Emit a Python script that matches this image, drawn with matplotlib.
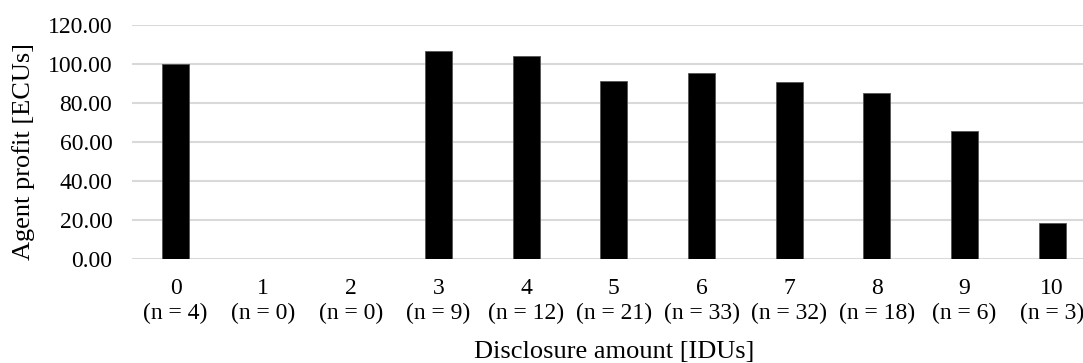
import matplotlib
matplotlib.use("Agg")
import matplotlib.pyplot as plt

categories = ["0", "1", "2", "3", "4", "5", "6", "7", "8", "9", "10"]
counts = [4, 0, 0, 9, 12, 21, 33, 32, 18, 6, 3]
profits = [100.0, 0.0, 0.0, 106.4, 104.0, 91.3, 95.1, 90.6, 85.0, 65.6, 18.3]

plt.rcParams['font.family'] = ['Liberation Serif', 'DejaVu Serif']

W, H = 1083, 363
fig = plt.figure(figsize=(W / 100, H / 100), dpi=100)
left, right, top, bottom = 131.7, 1096.0, 24.7, 258.7
ax = fig.add_axes([left / W, 1 - bottom / H, (right - left) / W, (bottom - top) / H])

x = list(range(len(categories)))
ax.bar(x, profits, width=0.31, color='black', edgecolor='#555555', linewidth=0.6, zorder=3)

ax.set_xlim(-0.5, len(categories) - 0.5)
ax.set_ylim(0, 120)
ax.set_yticks([0, 20, 40, 60, 80, 100, 120])
ax.set_yticklabels([f"{v:.2f}" for v in [0, 20, 40, 60, 80, 100, 120]], fontsize=17)
ax.set_xticks(x)
ax.set_xticklabels([f"{c}\n(n = {n})" for c, n in zip(categories, counts)],
                   fontsize=17, linespacing=1.2)
ax.tick_params(axis='both', length=0)
ax.tick_params(axis='x', pad=14)
ax.tick_params(axis='y', pad=14)

ax.grid(axis='y', color='#d9d9d9', linewidth=1.5, zorder=0)
for s in ax.spines.values():
    s.set_visible(False)

ax.set_xlabel("Disclosure amount [IDUs]", fontsize=19)
ax.set_ylabel("Agent profit [ECUs]", fontsize=19)
ax.xaxis.set_label_coords(0.5, -0.35)
ax.yaxis.set_label_coords(-0.1, 0.46)

fig.savefig("out.png", dpi=100)
